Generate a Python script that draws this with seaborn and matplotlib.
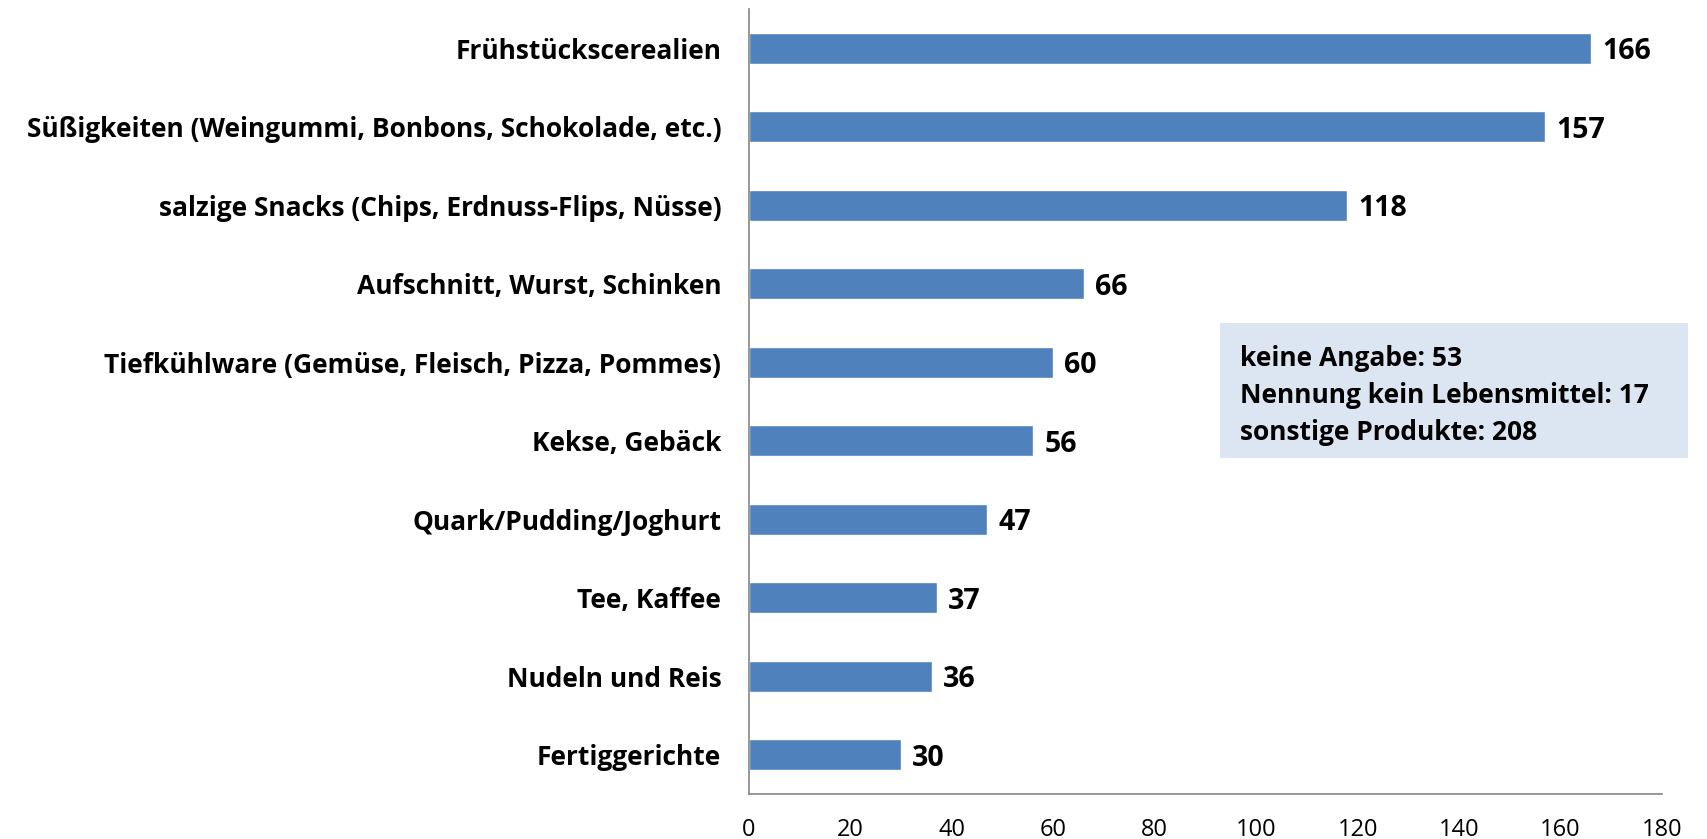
import matplotlib
matplotlib.use('Agg')
import matplotlib.pyplot as plt
from matplotlib.patches import Rectangle
import seaborn as sns
import pandas as pd

# data
categories = [
    'Frühstückscerealien',
    'Süßigkeiten (Weingummi, Bonbons, Schokolade, etc.)',
    'salzige Snacks (Chips, Erdnuss-Flips, Nüsse)',
    'Aufschnitt, Wurst, Schinken',
    'Tiefkühlware (Gemüse, Fleisch, Pizza, Pommes)',
    'Kekse, Gebäck',
    'Quark/Pudding/Joghurt',
    'Tee, Kaffee',
    'Nudeln und Reis',
    'Fertiggerichte',
]
counts = [166, 157, 118, 66, 60, 56, 47, 37, 36, 30]
x_ticks = [0, 20, 40, 60, 80, 100, 120, 140, 160, 180]
box_lines = ['keine Angabe: 53', 'Nennung kein Lebensmittel: 17', 'sonstige Produkte: 208']

df = pd.DataFrame({'Kategorie': categories, 'Anzahl': counts})

sns.set_style('white')
plt.rcParams['font.family'] = ['Open Sans', 'DejaVu Sans']

fig = plt.figure(figsize=(17.07, 8.39), dpi=100)
ax = fig.add_axes([0.4388, 0.0536, 0.5348, 0.9357])

sns.barplot(data=df, x='Anzahl', y='Kategorie', color='#4F81BD', saturation=1,
            width=0.4, ax=ax)

# value labels
for i, v in enumerate(counts):
    ax.text(v + 2.2, i, str(v), va='center_baseline', ha='left', fontsize=20.5,
            fontweight='bold', color='black')

ax.set_xlim(0, 180)
ax.set_ylim(len(categories) - 0.5, -0.5)
ax.set_xticks(x_ticks)
ax.set_xlabel('')
ax.set_ylabel('')

# category labels between tick marks (Excel style)
ax.set_yticks([i - 0.5 for i in range(len(categories) + 1)])
ax.set_yticklabels([])
ax.set_yticks(range(len(categories)), minor=True)
ax.set_yticklabels(categories, minor=True, fontsize=19, fontweight='bold', color='black')
ax.tick_params(axis='y', which='minor', length=0, pad=20)
ax.tick_params(axis='y', which='major', length=8, width=1.2, color='#868686', direction='out')
ax.tick_params(axis='x', length=8, width=1.2, color='#868686', direction='out',
               labelsize=17, pad=9, labelcolor='black')

for s in ['top', 'right']:
    ax.spines[s].set_visible(False)
for s in ['left', 'bottom']:
    ax.spines[s].set_color('#868686')
    ax.spines[s].set_linewidth(1.2)

# info box
fig.patches.append(Rectangle((0.7147, 0.4541), 0.2742, 0.1609, transform=fig.transFigure,
                             facecolor='#DCE6F2', edgecolor='none', zorder=0))
for k, line in enumerate(box_lines):
    fig.text(0.7264, 1 - (355 + 37 * k) / 839, line, fontsize=19, fontweight='bold',
             va='center_baseline', ha='left', color='black')

fig.savefig('out.png', dpi=100)
